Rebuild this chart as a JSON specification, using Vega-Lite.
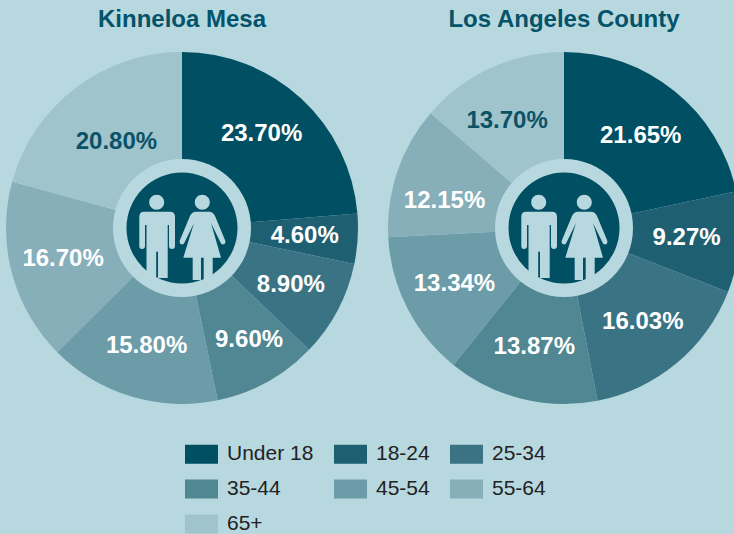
{
"$schema":"https://vega.github.io/schema/vega-lite/v6.json",
"width":734,"height":534,"padding":0,"autosize":{"type":"none"},
"background":"#b8d8df",
"config":{"view":{"stroke":null},"font":"Liberation Sans"},
"datasets":{
"regions":[{"region":"Kinneloa Mesa"},{"region":"Los Angeles County"}],
"shares":[
{"region":"Kinneloa Mesa","age":"Under 18","rank":1,"pct":23.7,"label":"23.70%"},
{"region":"Kinneloa Mesa","age":"18-24","rank":2,"pct":4.6,"label":"4.60%"},
{"region":"Kinneloa Mesa","age":"25-34","rank":3,"pct":8.9,"label":"8.90%"},
{"region":"Kinneloa Mesa","age":"35-44","rank":4,"pct":9.6,"label":"9.60%"},
{"region":"Kinneloa Mesa","age":"45-54","rank":5,"pct":15.8,"label":"15.80%"},
{"region":"Kinneloa Mesa","age":"55-64","rank":6,"pct":16.7,"label":"16.70%"},
{"region":"Kinneloa Mesa","age":"65+","rank":7,"pct":20.8,"label":"20.80%"},
{"region":"Los Angeles County","age":"Under 18","rank":1,"pct":21.65,"label":"21.65%"},
{"region":"Los Angeles County","age":"18-24","rank":2,"pct":9.27,"label":"9.27%"},
{"region":"Los Angeles County","age":"25-34","rank":3,"pct":16.03,"label":"16.03%"},
{"region":"Los Angeles County","age":"35-44","rank":4,"pct":13.87,"label":"13.87%"},
{"region":"Los Angeles County","age":"45-54","rank":5,"pct":13.34,"label":"13.34%"},
{"region":"Los Angeles County","age":"55-64","rank":6,"pct":12.15,"label":"12.15%"},
{"region":"Los Angeles County","age":"65+","rank":7,"pct":13.7,"label":"13.70%"}
]},
"data":{"name":"shares"},
"transform":[
{"stack":"pct","groupby":["region"],"sort":[{"field":"rank","order":"ascending"}],"offset":"normalize","as":["start","end"]},
{"calculate":"(datum.start+datum.end)/2","as":"mid"}
],
"encoding":{
"x":{"field":"region","type":"nominal","axis":null,"scale":{"type":"point","domain":["Kinneloa Mesa","Los Angeles County"],"range":[182,564],"padding":0}},
"y":{"datum":"pie","type":"nominal","axis":null,"scale":{"type":"point","domain":["title","pie"],"range":[20,228],"padding":0}}
},
"layer":[
{"mark":{"type":"arc","outerRadius":176,"innerRadius":0},
"encoding":{
"theta":{"field":"start","type":"quantitative","stack":null,"scale":{"domain":[0,1],"range":[0,6.28318530718]}},
"theta2":{"field":"end"},
"color":{"field":"age","type":"nominal","sort":null,
"scale":{"domain":["Under 18","18-24","25-34","35-44","45-54","55-64","65+"],"range":["#004f63","#1e6072","#3a7384","#518693","#6b9ca8","#87afba","#9fc4cc"]},
"legend":{"orient":"none","legendX":185,"legendY":437.5,"title":null,"columns":3,"direction":"horizontal","symbolType":"M-1,-0.576H1V0.576H-1Z","symbolSize":1089,"symbolStrokeWidth":0,"symbolOpacity":1,"labelFont":"Liberation Sans","labelFontSize":21,"labelColor":"#222222","labelOffset":9,"columnPadding":20,"rowPadding":8,"labelLimit":200}}
}},
{"transform":[{"filter":"indexof(['20.80%','9.60%','12.15%','13.70%','23.70%','21.65%'], datum.label) < 0"}],
"mark":{"type":"text","font":"Liberation Sans","fontWeight":"bold","fontSize":24,"align":"center","baseline":"middle"},
"encoding":{
"theta":{"field":"mid","type":"quantitative","stack":null,"scale":{"domain":[0,1],"range":[0,6.28318530718]}},
"radius":{"value":123},
"text":{"field":"label","type":"nominal"},
"color":{"value":"#ffffff"}
}},
{"transform":[{"filter":"datum.label === '23.70%'"}],
"mark":{"type":"text","font":"Liberation Sans","fontWeight":"bold","fontSize":24,"align":"center","baseline":"middle","color":"#ffffff","dx":-3,"dy":-4},
"encoding":{
"theta":{"field":"mid","type":"quantitative","stack":null,"scale":{"domain":[0,1],"range":[0,6.28318530718]}},
"radius":{"value":122},
"text":{"field":"label","type":"nominal"}
}},
{"transform":[{"filter":"datum.label === '21.65%'"}],
"mark":{"type":"text","font":"Liberation Sans","fontWeight":"bold","fontSize":24,"align":"center","baseline":"middle","color":"#ffffff","dy":3},
"encoding":{
"theta":{"field":"mid","type":"quantitative","stack":null,"scale":{"domain":[0,1],"range":[0,6.28318530718]}},
"radius":{"value":122},
"text":{"field":"label","type":"nominal"}
}},
{"transform":[{"filter":"datum.label === '9.60%'"}],
"mark":{"type":"text","font":"Liberation Sans","fontWeight":"bold","fontSize":24,"align":"center","baseline":"middle","color":"#ffffff","dx":8,"dy":5},
"encoding":{
"theta":{"field":"mid","type":"quantitative","stack":null,"scale":{"domain":[0,1],"range":[0,6.28318530718]}},
"radius":{"value":122},
"text":{"field":"label","type":"nominal"}
}},
{"transform":[{"filter":"datum.label === '12.15%'"}],
"mark":{"type":"text","font":"Liberation Sans","fontWeight":"bold","fontSize":24,"align":"center","baseline":"middle","color":"#ffffff","dx":-4,"dy":12},
"encoding":{
"theta":{"field":"mid","type":"quantitative","stack":null,"scale":{"domain":[0,1],"range":[0,6.28318530718]}},
"radius":{"value":122},
"text":{"field":"label","type":"nominal"}
}},
{"transform":[{"filter":"datum.label === '13.70%'"}],
"mark":{"type":"text","font":"Liberation Sans","fontWeight":"bold","fontSize":24,"align":"center","baseline":"middle","color":"#0b5267","dx":-6,"dy":4},
"encoding":{
"theta":{"field":"mid","type":"quantitative","stack":null,"scale":{"domain":[0,1],"range":[0,6.28318530718]}},
"radius":{"value":122},
"text":{"field":"label","type":"nominal"}
}},
{"transform":[{"filter":"datum.label === '20.80%'"}],
"mark":{"type":"text","font":"Liberation Sans","fontWeight":"bold","fontSize":24,"align":"center","baseline":"middle","color":"#0b5267"},
"encoding":{
"theta":{"field":"mid","type":"quantitative","stack":null,"scale":{"domain":[0,1],"range":[0,6.28318530718]}},
"radius":{"value":108},
"text":{"field":"label","type":"nominal"}
}},
{"data":{"name":"regions"},
"mark":{"type":"text","font":"Liberation Sans","fontWeight":"bold","fontSize":24,"align":"center","baseline":"middle","color":"#03536a"},
"encoding":{"y":{"datum":"title","type":"nominal"},"text":{"field":"region","type":"nominal"}}},
{"data":{"name":"regions"},
"mark":{"type":"point","shape":"circle","filled":true,"size":19044,"color":"#b8d8df","opacity":1},
"encoding":{}},
{"data":{"name":"regions"},
"mark":{"type":"point","shape":"circle","filled":true,"size":12321,"color":"#004f63","opacity":1},
"encoding":{}},
{"data":{"name":"regions"},
"mark":{"type":"point","filled":true,"size":4,"color":"#b8d8df","opacity":1,"strokeWidth":0,
"shape":"M-32.8,-25.7A7.5,7.5 0 1 1 -17.8,-25.7A7.5,7.5 0 1 1 -32.8,-25.7ZM-38,-16.3H-12Q-7,-16.3 -7,-11V18Q-7,21 -10,21Q-13,21 -13,18V-3H-14.3V50H-24V23.7H-25.8V50H-35.5V-3H-37V18Q-37,21 -40,21Q-42.7,21 -42.7,18V-11Q-42.7,-16.3 -38,-16.3ZM12.8,-25.7A7.5,7.5 0 1 1 27.8,-25.7A7.5,7.5 0 1 1 12.8,-25.7ZM13,-16.3H28Q31,-16 33,-12L43,12Q44.5,16 41,16.5Q39,16.5 38,13.5L29,-5L39,29.7H30.7V52H21.7V29.7H19V52H10.7V29.7H1.3L12,-5L3,13.5Q2,16.5 0,16.5Q-3.5,16 -2,12L8,-12Q10,-16 13,-16.3Z"},
"encoding":{}}
]
}
